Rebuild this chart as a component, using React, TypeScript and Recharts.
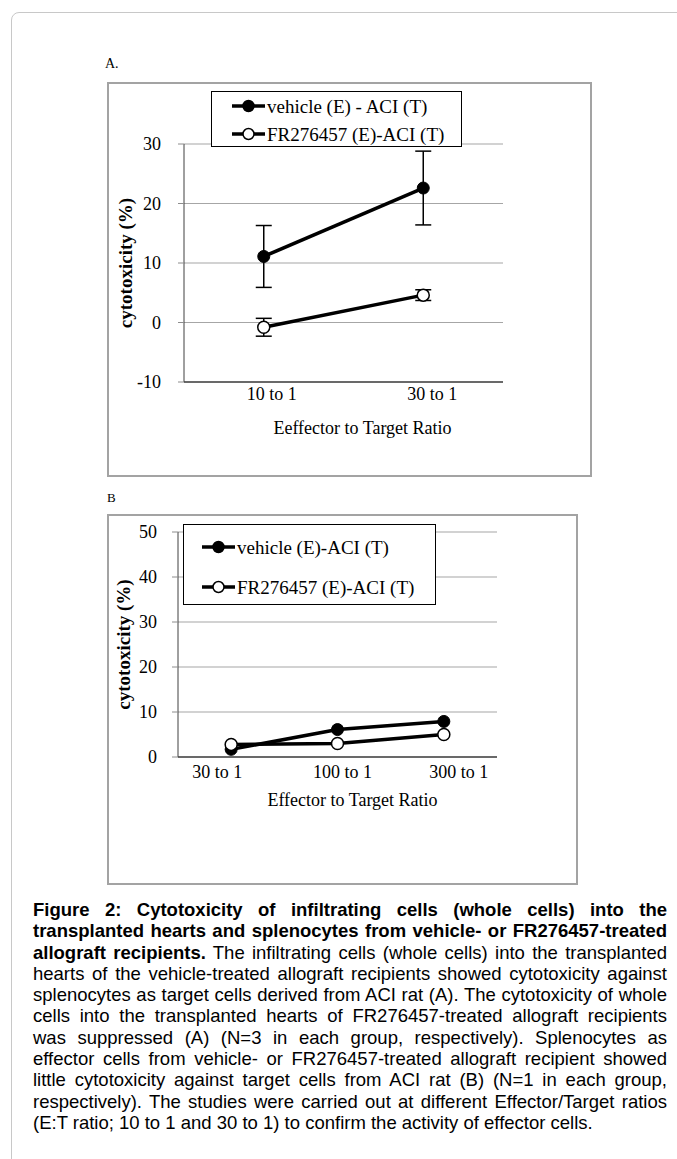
import React from 'react';
import { LineChart, Line, XAxis, YAxis, CartesianGrid, ErrorBar, Legend, Label } from 'recharts';

// ---------- data ----------
const categoriesA = ['10 to 1', '30 to 1'];
const vehicleA = [11.1, 22.6];
const vehicleErrA = [5.2, 6.2];
const fr276457A = [-0.8, 4.6];
const fr276457ErrA = [1.5, 0.9];
const ticksA = [-10, 0, 10, 20, 30];

const categoriesB = ['30 to 1', '100 to 1', '300 to 1'];
const vehicleB = [1.7, 6.1, 7.9];
const fr276457B = [2.8, 3.0, 5.0];
const ticksB = [0, 10, 20, 30, 40, 50];

const legendA = ['vehicle (E) - ACI (T)', 'FR276457 (E)-ACI (T)'];
const legendB = ['vehicle (E)-ACI (T)', 'FR276457 (E)-ACI (T)'];

const yTitle = 'cytotoxicity (%)';
const xTitleA = 'Eeffector to Target Ratio';
const xTitleB = 'Effector to Target Ratio';

const captionLines: [string, string][] = [
  ['Figure 2: Cytotoxicity of infiltrating cells (whole cells) into the', ''],
  ['transplanted hearts and splenocytes from vehicle- or FR276457-treated', ''],
  ['allograft recipients.', ' The infiltrating cells (whole cells) into the transplanted'],
  ['', 'hearts of the vehicle-treated allograft recipients showed cytotoxicity against'],
  ['', 'splenocytes as target cells derived from ACI rat (A). The cytotoxicity of whole'],
  ['', 'cells into the transplanted hearts of FR276457-treated allograft recipients'],
  ['', 'was suppressed (A) (N=3 in each group, respectively). Splenocytes as'],
  ['', 'effector cells from vehicle- or FR276457-treated allograft recipient showed'],
  ['', 'little cytotoxicity against target cells from ACI rat (B) (N=1 in each group,'],
  ['', 'respectively). The studies were carried out at different Effector/Target ratios'],
  ['', '(E:T ratio; 10 to 1 and 30 to 1) to confirm the activity of effector cells.'],
];

const dataA = categoriesA.map((c, i) => ({
  cat: c,
  vehicle: vehicleA[i],
  vehicleErr: vehicleErrA[i],
  fr: fr276457A[i],
  frErr: fr276457ErrA[i],
}));
const dataB = categoriesB.map((c, i) => ({ cat: c, vehicle: vehicleB[i], fr: fr276457B[i] }));

// ---------- styles ----------
const SERIF = '"Liberation Serif", "Times New Roman", serif';
const SANS = '"Liberation Sans", Arial, sans-serif';
const tickStyle = { fontSize: 18, fontFamily: SERIF, fill: '#000' };
const tickShiftA = [8, 9];
const tickShiftB = [-14, 5, 15];

const makeXTick = (shifts: number[]) => (props: any) => {
  const { x, y, payload, index } = props;
  return (
    <text x={x + (shifts[index] || 0)} y={y} dy={13} textAnchor="middle" {...tickStyle}>
      {payload.value}
    </text>
  );
};

const xTitle = (text: string, dx: number, dy: number) => (props: any) => {
  const vb = props.viewBox;
  return (
    <text x={vb.x + vb.width / 2 + dx} y={vb.y + dy} textAnchor="middle" fontSize={18} fontFamily={SERIF} fill="#000">
      {text}
    </text>
  );
};

const yTitleFn = (cxRel: number) => (props: any) => {
  const vb = props.viewBox;
  const cx = vb.x + cxRel;
  const cy = vb.y + vb.height / 2;
  return (
    <text
      x={cx}
      y={cy}
      transform={`rotate(-90, ${cx}, ${cy})`}
      textAnchor="middle"
      dominantBaseline="central"
      fontSize={19}
      fontWeight="bold"
      fontFamily={SERIF}
      fill="#000"
    >
      {yTitle}
    </text>
  );
};

const makeLegend = (labels: string[], w: number, h: number, rowYs: number[], lx1: number, lx2: number, tx: number) => () => (
  <svg width={w} height={h} style={{ display: 'block' }}>
    <rect x={0.5} y={0.5} width={w - 1} height={h - 1} fill="#fff" stroke="#000" strokeWidth={1} />
    {labels.map((lab, i) => (
      <g key={lab}>
        <line x1={lx1} x2={lx2} y1={rowYs[i]} y2={rowYs[i]} stroke="#000" strokeWidth={3.5} />
        <circle cx={(lx1 + lx2) / 2} cy={rowYs[i]} r={5.5} fill={i === 0 ? '#000' : '#fff'} stroke="#000" strokeWidth={1.5} />
        <text x={tx} y={rowYs[i]} dominantBaseline="central" fontSize={19} fontFamily={SERIF} fill="#000">
          {lab}
        </text>
      </g>
    ))}
  </svg>
);

const frameStyle = (left: number, top: number, width: number, height: number): React.CSSProperties => ({
  position: 'absolute',
  left,
  top,
  width,
  height,
  boxSizing: 'border-box',
  border: '2px solid #a3a3a3',
  background: '#fff',
});

const AXIS = '#404040';
const GRID = '#a6a6a6';

export default function App() {
  return (
    <div style={{ position: 'absolute', left: 0, top: 0, width: 677, height: 1159, overflow: 'hidden', background: '#fff' }}>
      <div
        style={{
          position: 'absolute',
          left: 11,
          top: 12,
          width: 760,
          height: 1250,
          border: '1px solid #c8c8c8',
          borderRadius: 8,
        }}
      />
      <div style={{ position: 'absolute', left: 105, top: 57, fontSize: 14, lineHeight: '14px', fontFamily: SERIF }}>A.</div>
      <div style={frameStyle(107, 82, 485, 395)}>
        <div style={{ position: 'absolute', left: -2, top: -2 }}>
          <LineChart width={485} height={394} data={dataA} margin={{ top: 62, right: 89, left: 0, bottom: 0 }}>
            <CartesianGrid horizontal vertical={false} stroke={GRID} strokeWidth={1.2} />
            <XAxis
              dataKey="cat"
              scale="band"
              height={94}
              stroke="#000"
              tickLine={false}
              tickSize={5}
              tickMargin={0}
              tick={makeXTick(tickShiftA)}
              interval={0}
            >
              <Label content={xTitle(xTitleA, 19, 52)} />
            </XAxis>
            <XAxis xAxisId="top" dataKey="cat" scale="band" orientation="top" height={0} tick={false} tickLine={false} stroke={AXIS} />
            <YAxis
              domain={[-10, 30]}
              ticks={ticksA}
              width={77}
              stroke={AXIS}
              tickLine={{ stroke: '#8c8c8c' }}
              tickSize={6}
              tickMargin={17}
              tick={tickStyle}
              interval={0}
            >
              <Label content={yTitleFn(18)} />
            </YAxis>
            <YAxis yAxisId="right" orientation="right" width={0} tick={false} tickLine={false} stroke={AXIS} />
            <Legend
              layout="horizontal"
              verticalAlign="middle"
              align="center"
              content={makeLegend(legendA, 251, 56, [15, 43], 21, 54, 56)}
              wrapperStyle={{ position: 'absolute', left: 104, top: 9, width: 251, height: 56 }}
            />
            <Line
              dataKey="vehicle"
              stroke="#000"
              strokeWidth={3.5}
              isAnimationActive={false}
              dot={{ r: 6, fill: '#000', stroke: '#000', strokeWidth: 1 }}
            >
              <ErrorBar dataKey="vehicleErr" width={8} stroke="#000" strokeWidth={1.5} direction="y" />
            </Line>
            <Line
              dataKey="fr"
              stroke="#000"
              strokeWidth={3.5}
              isAnimationActive={false}
              dot={{ r: 6, fill: '#fff', stroke: '#000', strokeWidth: 1.5 }}
            >
              <ErrorBar dataKey="frErr" width={8} stroke="#000" strokeWidth={1.5} direction="y" />
            </Line>
          </LineChart>
        </div>
      </div>

      <div style={{ position: 'absolute', left: 107, top: 491, fontSize: 13, lineHeight: '13px', fontFamily: SERIF }}>B</div>
      <div style={frameStyle(107, 514, 471, 371)}>
        <div style={{ position: 'absolute', left: -2, top: -2 }}>
          <LineChart width={471} height={370} data={dataB} margin={{ top: 18, right: 81, left: 0, bottom: 0 }}>
            <CartesianGrid horizontal vertical={false} stroke={GRID} strokeWidth={1.2} />
            <XAxis
              dataKey="cat"
              scale="band"
              height={127}
              stroke="#000"
              tickLine={false}
              tickSize={6}
              tickMargin={2}
              tick={makeXTick(tickShiftB)}
              interval={0}
            >
              <Label content={xTitle(xTitleB, 15, 49)} />
            </XAxis>
            <XAxis xAxisId="top" dataKey="cat" scale="band" orientation="top" height={0} tick={false} tickLine={false} stroke={AXIS} />
            <YAxis
              domain={[0, 50]}
              ticks={ticksB}
              width={71}
              stroke={AXIS}
              tickLine={{ stroke: '#8c8c8c' }}
              tickSize={6}
              tickMargin={15}
              tick={tickStyle}
              interval={0}
            >
              <Label content={yTitleFn(16)} />
            </YAxis>
            <YAxis yAxisId="right" orientation="right" width={0} tick={false} tickLine={false} stroke={AXIS} />
            <Legend
              layout="horizontal"
              verticalAlign="middle"
              align="center"
              content={makeLegend(legendB, 253, 81, [23, 63], 19, 52, 54)}
              wrapperStyle={{ position: 'absolute', left: 76, top: 10, width: 253, height: 81 }}
            />
            <Line
              dataKey="vehicle"
              stroke="#000"
              strokeWidth={3.5}
              isAnimationActive={false}
              dot={{ r: 6, fill: '#000', stroke: '#000', strokeWidth: 1 }}
            />
            <Line
              dataKey="fr"
              stroke="#000"
              strokeWidth={3.5}
              isAnimationActive={false}
              dot={{ r: 6, fill: '#fff', stroke: '#000', strokeWidth: 1.5 }}
            />
          </LineChart>
        </div>
      </div>

      <div
        style={{
          position: 'absolute',
          left: 33,
          top: 899,
          width: 634,
          fontFamily: SANS,
          fontSize: 18.5,
          lineHeight: '21.3px',
          color: '#000',
        }}
      >
        {captionLines.map(([b, n], i) => (
          <div
            key={i}
            style={{
              textAlign: 'justify',
              textAlignLast: i === captionLines.length - 1 ? 'left' : 'justify',
              height: 21.3,
            }}
          >
            {b && <b>{b}</b>}
            {n}
          </div>
        ))}
      </div>
    </div>
  );
}
